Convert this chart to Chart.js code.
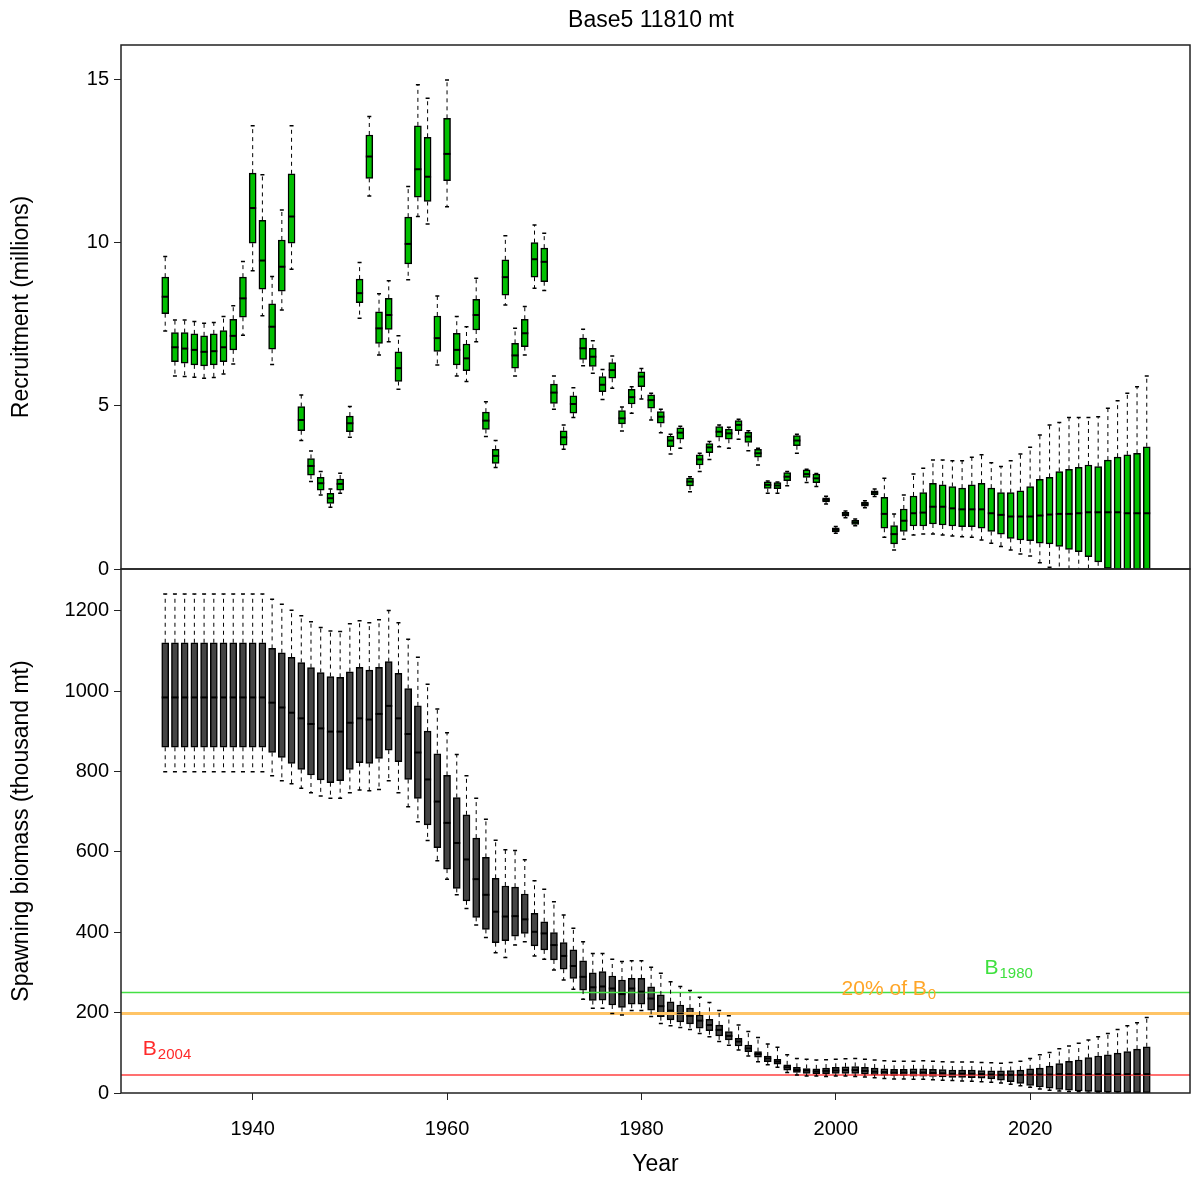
<!DOCTYPE html>
<html>
<head>
<meta charset="utf-8">
<script src="https://cdn.jsdelivr.net/npm/chart.js@4.4.1/dist/chart.umd.min.js"></script>
<style>
  body { margin: 0; background: #fff; }
  #wrap { position: relative; width: 1192px; height: 1178px; }
  canvas { position: absolute; left: 0; }
  #recCanvas { top: 0; }
  #ssbCanvas { top: 545px; }
</style>
</head>
<body>
<div id="wrap">
  <canvas id="recCanvas" width="1192" height="600"></canvas>
  <canvas id="ssbCanvas" width="1192" height="633"></canvas>
</div>
<script>
// years 1931 - 2032, one box per year
const firstYear = 1931, lastYear = 2032;
const years = [];
for (let y = firstYear; y <= lastYear; y++) years.push(y);

const yearTicks = [1940, 1960, 1980, 2000, 2020];
const recTicks = [0, 5, 10, 15];
const ssbTicks = [0, 200, 400, 600, 800, 1000, 1200];

// Recruitment (millions): whisker ends, quartiles and median
const recHi = [
  9.58, 7.64, 7.64, 7.59, 7.54, 7.56, 7.74, 8.07, 9.43, 13.59,
  12.09, 8.97, 11.01, 13.59, 5.34, 3.62, 2.99, 2.45, 2.94, 4.98,
  9.40, 13.88, 8.44, 8.84, 7.15, 11.73, 14.85, 14.44, 8.37, 15.00,
  7.74, 7.43, 8.92, 5.13, 3.94, 10.22, 7.38, 8.05, 10.55, 10.30,
  5.92, 4.42, 5.56, 7.35, 7.00, 6.12, 6.53, 4.97, 5.59, 6.15,
  5.39, 4.90, 4.13, 4.38, 2.83, 3.55, 3.91, 4.42, 4.35, 4.59,
  4.24, 3.70, 2.70, 2.67, 2.99, 4.13, 3.06, 2.93, 2.23, 1.30,
  1.78, 1.53, 2.09, 2.45, 2.78, 1.69, 2.27, 2.91, 3.09, 3.34,
  3.34, 3.32, 3.32, 3.43, 3.50, 3.26, 3.14, 3.32, 3.53, 3.73,
  4.11, 4.42, 4.49, 4.65, 4.65, 4.65, 4.67, 4.93, 5.16, 5.39,
  5.59, 5.92
];
const recQ3 = [
  8.95, 7.25, 7.25, 7.21, 7.15, 7.21, 7.31, 7.66, 8.95, 12.14,
  10.69, 8.13, 10.09, 12.12, 4.98, 3.39, 2.81, 2.32, 2.76, 4.69,
  8.89, 13.31, 7.89, 8.30, 6.66, 10.79, 13.59, 13.24, 7.76, 13.82,
  7.23, 6.90, 8.27, 4.81, 3.67, 9.48, 6.92, 7.66, 10.01, 9.84,
  5.67, 4.24, 5.31, 7.08, 6.77, 5.90, 6.33, 4.86, 5.51, 6.05,
  5.34, 4.83, 4.08, 4.33, 2.79, 3.50, 3.85, 4.37, 4.29, 4.55,
  4.19, 3.67, 2.67, 2.65, 2.96, 4.09, 3.04, 2.91, 2.18, 1.26,
  1.74, 1.49, 2.05, 2.40, 2.20, 1.33, 1.84, 2.24, 2.34, 2.63,
  2.58, 2.53, 2.48, 2.58, 2.63, 2.48, 2.34, 2.34, 2.40, 2.53,
  2.75, 2.81, 2.99, 3.06, 3.12, 3.19, 3.14, 3.34, 3.43, 3.50,
  3.55, 3.75
];
const recMed = [
  8.35, 6.80, 6.76, 6.72, 6.66, 6.68, 6.80, 7.15, 8.30, 11.07,
  9.46, 7.43, 9.27, 10.81, 4.57, 3.16, 2.63, 2.17, 2.61, 4.47,
  8.46, 12.65, 7.38, 7.79, 6.16, 9.97, 12.26, 12.03, 7.08, 12.73,
  6.72, 6.46, 7.79, 4.55, 3.47, 8.95, 6.55, 7.23, 9.50, 9.42,
  5.41, 4.04, 5.06, 6.77, 6.51, 5.65, 6.10, 4.62, 5.27, 5.90,
  5.18, 4.67, 3.94, 4.18, 2.68, 3.36, 3.73, 4.21, 4.16, 4.42,
  4.06, 3.55, 2.58, 2.56, 2.83, 3.94, 2.91, 2.78, 2.12, 1.20,
  1.68, 1.43, 1.99, 2.34, 1.69, 1.07, 1.48, 1.71, 1.73, 1.91,
  1.91, 1.86, 1.83, 1.83, 1.83, 1.71, 1.66, 1.61, 1.61, 1.61,
  1.64, 1.67, 1.69, 1.69, 1.71, 1.74, 1.74, 1.74, 1.74, 1.71,
  1.71, 1.71
];
const recQ1 = [
  7.83, 6.36, 6.31, 6.26, 6.23, 6.26, 6.36, 6.72, 7.72, 9.99,
  8.58, 6.74, 8.52, 9.99, 4.24, 2.88, 2.42, 2.01, 2.42, 4.21,
  8.17, 11.98, 6.92, 7.35, 5.75, 9.36, 11.40, 11.27, 6.67, 11.91,
  6.26, 6.08, 7.33, 4.28, 3.24, 8.40, 6.16, 6.82, 8.95, 8.81,
  5.08, 3.80, 4.78, 6.43, 6.21, 5.44, 5.85, 4.45, 5.06, 5.59,
  4.93, 4.47, 3.75, 3.98, 2.55, 3.19, 3.57, 4.04, 3.98, 4.24,
  3.88, 3.43, 2.47, 2.46, 2.71, 3.78, 2.81, 2.65, 2.06, 1.14,
  1.62, 1.37, 1.93, 2.28, 1.25, 0.77, 1.15, 1.32, 1.32, 1.38,
  1.35, 1.32, 1.30, 1.30, 1.25, 1.15, 1.07, 0.94, 0.89, 0.87,
  0.79, 0.77, 0.69, 0.60, 0.53, 0.38, 0.22, 0.00, -0.10, -0.20,
  -0.30, -0.40
];
const recLo = [
  7.30, 5.92, 5.90, 5.88, 5.85, 5.87, 5.98, 6.29, 7.17, 9.15,
  7.77, 6.27, 7.94, 9.19, 3.94, 2.68, 2.27, 1.89, 2.32, 4.04,
  7.69, 11.44, 6.56, 6.97, 5.51, 8.87, 10.81, 10.58, 6.26, 11.11,
  5.92, 5.75, 6.97, 4.06, 3.11, 8.10, 5.92, 6.56, 8.61, 8.54,
  4.90, 3.67, 4.65, 6.23, 6.00, 5.20, 5.54, 4.23, 4.78, 5.21,
  4.57, 4.18, 3.53, 3.70, 2.37, 2.99, 3.36, 3.75, 3.70, 3.98,
  3.63, 3.19, 2.32, 2.32, 2.55, 3.55, 2.65, 2.53, 1.99, 1.10,
  1.57, 1.33, 1.88, 2.22, 0.97, 0.58, 0.91, 1.04, 1.07, 1.07,
  1.04, 1.01, 0.99, 0.97, 0.89, 0.79, 0.69, 0.58, 0.46, 0.40,
  0.19, 0.05, -0.05, -0.20, -0.30, -0.50, -0.70, -0.90, -1.00, -1.20,
  -1.30, -1.50
];

// Spawning biomass (thousand mt)
const ssbHi = [
  1241, 1241, 1241, 1241, 1241, 1241, 1241, 1241, 1241, 1241,
  1241, 1228, 1216, 1201, 1187, 1172, 1158, 1149, 1148, 1167,
  1175, 1170, 1177, 1200, 1170, 1129, 1084, 1017, 955, 896,
  842, 789, 733, 681, 629, 605, 603, 580, 528, 507,
  476, 443, 410, 376, 347, 347, 333, 327, 329, 329,
  313, 298, 277, 265, 255, 238, 225, 205, 192, 169,
  153, 138, 122, 114, 95, 86, 84, 82, 83, 84,
  85, 86, 84, 82, 80, 79, 79, 79, 80, 79,
  78, 77, 77, 77, 76, 75, 74, 76, 79, 86,
  95, 101, 110, 117, 124, 132, 140, 148, 158, 167,
  175, 188
];
const ssbQ3 = [
  1120, 1120, 1120, 1120, 1120, 1120, 1120, 1120, 1120, 1120,
  1120, 1106, 1095, 1084, 1071, 1058, 1046, 1036, 1034, 1048,
  1059, 1052, 1059, 1073, 1044, 1006, 963, 900, 844, 790,
  735, 692, 634, 586, 534, 515, 512, 495, 447, 426,
  399, 374, 356, 329, 299, 302, 291, 281, 285, 285,
  264, 244, 227, 219, 211, 194, 183, 169, 153, 136,
  119, 103, 92, 84, 70, 64, 61, 60, 62, 64,
  65, 66, 64, 62, 60, 59, 59, 60, 60, 59,
  58, 57, 57, 57, 56, 55, 55, 56, 57, 60,
  62, 67, 73, 79, 82, 88, 92, 95, 99, 103,
  109, 115
];
const ssbMed = [
  984, 984, 984, 984, 984, 984, 984, 984, 984, 984,
  984, 971, 959, 946, 932, 918, 907, 899, 899, 921,
  932, 929, 943, 963, 932, 893, 847, 780, 725, 672,
  622, 581, 532, 493, 451, 439, 440, 432, 401, 397,
  368, 341, 316, 289, 263, 265, 260, 246, 260, 252,
  235, 216, 205, 198, 192, 180, 169, 157, 142, 128,
  111, 97, 86, 78, 64, 57, 56, 54, 55, 56,
  57, 57, 55, 53, 52, 51, 51, 51, 51, 50,
  49, 48, 48, 48, 47, 46, 45, 45, 45, 46,
  46, 46, 47, 47, 47, 47, 47, 47, 47, 47,
  47, 47
];
const ssbQ1 = [
  860, 860, 860, 860, 860, 860, 860, 860, 860, 860,
  860, 847, 835, 820, 805, 791, 779, 772, 777, 805,
  822, 820, 832, 853, 824, 780, 733, 667, 610, 557,
  509, 478, 437, 407, 374, 379, 390, 397, 366, 356,
  331, 308, 285, 256, 230, 231, 219, 213, 221, 221,
  206, 190, 182, 177, 172, 161, 155, 142, 132, 117,
  103, 89, 78, 72, 57, 51, 49, 48, 48, 49,
  49, 49, 47, 45, 44, 43, 43, 42, 42, 41,
  40, 39, 39, 38, 37, 35, 32, 28, 24, 19,
  15, 12, 9, 7, 5, 4, 3, 2, 2, 1,
  1, 1
];
const ssbLo = [
  799, 799, 799, 799, 799, 799, 799, 799, 799, 799,
  799, 789, 777, 769, 758, 747, 739, 733, 733, 747,
  754, 752, 755, 777, 747, 712, 675, 628, 578, 532,
  493, 459, 418, 387, 349, 337, 368, 376, 341, 333,
  306, 281, 258, 233, 211, 211, 198, 194, 205, 205,
  190, 173, 167, 163, 158, 148, 140, 128, 119, 107,
  92, 78, 70, 64, 51, 45, 42, 42, 41, 42,
  42, 41, 40, 38, 36, 35, 35, 34, 34, 33,
  32, 31, 30, 29, 28, 27, 25, 22, 18, 14,
  10, 7, 5, 4, 3, 2, 1, 1, 0, 0,
  0, 0
];

// reference levels (thousand mt)
const b1980 = 250;
const b0Pct20 = 198;
const b2004 = 45;

const fontFamily = "'Liberation Sans', Arial, Helvetica, sans-serif";
Chart.defaults.font.family = fontFamily;
Chart.defaults.color = '#000';

const xMin = 1926.45, xMax = 2036.45;

// draws whiskers (dashed), caps and the median for each box
const boxWhiskers = {
  id: 'boxWhiskers',
  afterDatasetsDraw(chart) {
    const { ctx, chartArea: a, scales } = chart;
    const xs = scales.x, ys = scales.y;
    ctx.save();
    ctx.beginPath();
    ctx.rect(a.left, a.top, a.right - a.left, a.bottom - a.top);
    ctx.clip();
    ctx.strokeStyle = '#000';
    chart.data.datasets.forEach(ds => {
      if (!ds.med) return;
      const half = ds.barThickness / 2;
      ds.data.forEach((d, i) => {
        const px = xs.getPixelForValue(d.x);
        const pQ1 = ys.getPixelForValue(d.y[0]);
        const pQ3 = ys.getPixelForValue(d.y[1]);
        const pHi = ys.getPixelForValue(ds.hi[i]);
        const pLo = ys.getPixelForValue(ds.lo[i]);
        const pMed = ys.getPixelForValue(ds.med[i]);
        ctx.lineWidth = 1;
        ctx.setLineDash([4, 4]);
        ctx.beginPath();
        ctx.moveTo(px, pQ3); ctx.lineTo(px, pHi);
        ctx.moveTo(px, pQ1); ctx.lineTo(px, pLo);
        ctx.stroke();
        ctx.setLineDash([]);
        ctx.lineWidth = 1.5;
        ctx.beginPath();
        ctx.moveTo(px - 2, pHi); ctx.lineTo(px + 2, pHi);
        ctx.moveTo(px - 2, pLo); ctx.lineTo(px + 2, pLo);
        ctx.stroke();
        ctx.lineWidth = 2;
        ctx.beginPath();
        ctx.moveTo(px - half, pMed); ctx.lineTo(px + half, pMed);
        ctx.stroke();
      });
    });
    ctx.restore();
  }
};

// box round the plot region, like R's box()
const frame = {
  id: 'frame',
  afterDraw(chart) {
    const { ctx, chartArea: a } = chart;
    ctx.save();
    ctx.strokeStyle = '#222';
    ctx.lineWidth = 1.5;
    ctx.strokeRect(a.left, a.top, a.right - a.left, a.bottom - a.top);
    ctx.restore();
  }
};

const mainTitle = {
  id: 'mainTitle',
  afterDraw(chart) {
    const ctx = chart.ctx;
    ctx.save();
    ctx.font = '23px ' + fontFamily;
    ctx.fillStyle = '#000';
    ctx.textAlign = 'center';
    ctx.textBaseline = 'middle';
    ctx.fillText('Base5 11810 mt', 651, 21);
    ctx.restore();
  }
};

// text labels of the reference lines, placed in data units
const refLabels = [
  { main: 'B', sub: '1980', year: 2015.3, value: 311, color: '#3fe03f' },
  { main: '20% of B', sub: '0', year: 2000.6, value: 259, color: '#ffa628' },
  { main: 'B', sub: '2004', year: 1928.7, value: 109, color: '#ff2a2a' }
];

const refText = {
  id: 'refText',
  afterDraw(chart) {
    const { ctx, scales } = chart;
    ctx.save();
    ctx.textAlign = 'left';
    ctx.textBaseline = 'middle';
    refLabels.forEach(l => {
      const px = scales.x.getPixelForValue(l.year);
      const py = scales.y.getPixelForValue(l.value);
      ctx.fillStyle = l.color;
      ctx.font = '21px ' + fontFamily;
      ctx.fillText(l.main, px, py);
      const w = ctx.measureText(l.main).width;
      ctx.font = '15px ' + fontFamily;
      ctx.fillText(l.sub, px + w + 1, py + 6);
    });
    ctx.restore();
  }
};

function boxDataset(q1, q3, hi, med, lo, fill) {
  return {
    type: 'bar',
    data: years.map((yr, i) => ({ x: yr, y: [q1[i], q3[i]] })),
    backgroundColor: fill,
    borderColor: '#000',
    borderWidth: 1.5,
    borderSkipped: false,
    barThickness: 7,
    hi: hi, med: med, lo: lo,
    order: 2
  };
}

function refLine(value, color, width) {
  return {
    type: 'line',
    data: [{ x: xMin, y: value }, { x: xMax, y: value }],
    borderColor: color,
    borderWidth: width,
    pointRadius: 0,
    order: 1
  };
}

function yScale(max, ticks, title) {
  return {
    type: 'linear',
    min: 0,
    max: max,
    afterBuildTicks: s => { s.ticks = ticks.map(v => ({ value: v })); },
    afterFit: s => { s.width = 121; },
    ticks: { font: { size: 20 }, padding: 5, callback: v => String(v) },
    grid: { drawOnChartArea: false, drawTicks: true, tickLength: 7, color: '#222' },
    border: { display: false },
    title: { display: true, text: title, font: { size: 23 }, padding: { top: 8, bottom: 0 } }
  };
}

const common = {
  responsive: false,
  devicePixelRatio: 1,
  animation: false,
  plugins: { legend: { display: false }, tooltip: { enabled: false } }
};

new Chart(document.getElementById('recCanvas'), {
  type: 'bar',
  data: { datasets: [boxDataset(recQ1, recQ3, recHi, recMed, recLo, '#00c000')] },
  options: Object.assign({}, common, {
    layout: { padding: { top: 45, right: 2, bottom: 31, left: 0 } },
    scales: {
      x: { type: 'linear', min: xMin, max: xMax, display: false, offset: false },
      y: yScale(16.07, recTicks, 'Recruitment (millions)')
    }
  }),
  plugins: [boxWhiskers, frame, mainTitle]
});

new Chart(document.getElementById('ssbCanvas'), {
  type: 'bar',
  data: {
    datasets: [
      boxDataset(ssbQ1, ssbQ3, ssbHi, ssbMed, ssbLo, '#454545'),
      refLine(b1980, '#44e044', 1.5),
      refLine(b0Pct20, '#ffc466', 3),
      refLine(b2004, '#ff4040', 1.5)
    ]
  },
  options: Object.assign({}, common, {
    layout: { padding: { top: 24, right: 2, bottom: 0, left: 0 } },
    scales: {
      x: {
        type: 'linear', min: xMin, max: xMax, offset: false,
        afterBuildTicks: s => { s.ticks = yearTicks.map(v => ({ value: v })); },
        afterFit: s => { s.height = 85; },
        ticks: { font: { size: 20 }, padding: 17, maxRotation: 0, callback: v => String(v) },
        grid: { drawOnChartArea: false, drawTicks: true, tickLength: 7, color: '#222', offset: false },
        border: { display: false },
        title: { display: true, text: 'Year', font: { size: 23 }, padding: { top: 0, bottom: 0 } }
      },
      y: yScale(1303.5, ssbTicks, 'Spawning biomass (thousand mt)')
    }
  }),
  plugins: [boxWhiskers, frame, refText]
});
</script>
</body>
</html>
